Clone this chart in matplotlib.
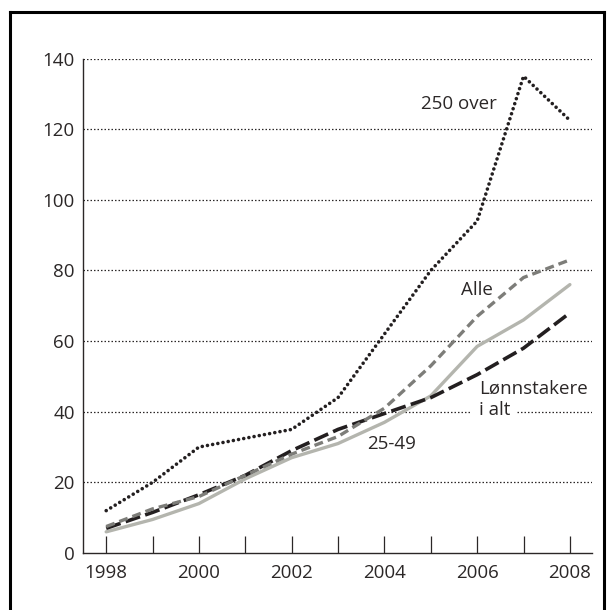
import matplotlib.pyplot as plt
from matplotlib.lines import Line2D

plt.rcParams['font.family'] = ['Open Sans', 'DejaVu Sans']

years = list(range(1998, 2009))
over_250 = [12, 20, 30, 32.5, 35, 44, 62, 80, 94, 135, 122.5]
alle = [7.5, 12.5, 16, 22, 28, 33, 41, 53, 67, 78, 83]
group_25_49 = [6, 9.5, 14, 21, 27, 31, 37, 44.5, 58.5, 66, 76]
lonnstakere = [7, 11.5, 16.5, 22, 29, 35, 39.5, 44, 50.5, 58, 68]

y_ticks = [0, 20, 40, 60, 80, 100, 120, 140]
x_labels = [1998, 2000, 2002, 2004, 2006, 2008]

txt = '#2b2727'
fs = 13.5

fig = plt.figure(figsize=(6.13, 6.10), dpi=100)
ax = fig.add_axes([0.1354, 0.0934, 0.8306, 0.8106])

# outer frame
for xs, ys in [([0.017, 0.017], [0, 0.98]), ([0.017, 0.986], [0.98, 0.98]),
               ([0.986, 0.986], [0, 0.98])]:
    fig.add_artist(Line2D(xs, ys, color='black', lw=2.2, transform=fig.transFigure))

# dotted gridlines
for v in y_ticks[1:]:
    ax.axhline(v, color=txt, lw=0.9, ls=(0, (1.2, 1.6)), zorder=1)

ax.plot(years, group_25_49, color='#b4b5ae', lw=2.4, zorder=3, solid_capstyle='round')
ax.plot(years, lonnstakere, color='#231f20', lw=2.6, ls=(0, (4.2, 1.5)), zorder=4)
ax.plot(years, alle, color='#7d7d79', lw=2.4, ls=(0, (2.7, 1.5)), zorder=4)
ax.plot(years, over_250, color='#231f20', lw=2.6, ls=(0, (0.01, 1.45)),
        dash_capstyle='round', zorder=5)

ax.set_xlim(1997.5, 2008.48)
ax.set_ylim(0, 140)
ax.set_yticks(y_ticks)
ax.set_xticks(years)
ax.set_xticklabels([str(y) if y in x_labels else '' for y in years])
ax.tick_params(axis='x', direction='in', length=12, width=0.9, color=txt,
               labelsize=fs, labelcolor=txt, pad=8)
ax.tick_params(axis='y', length=0, labelsize=fs, labelcolor=txt, pad=6)

for s in ['top', 'right']:
    ax.spines[s].set_visible(False)
for s in ['left', 'bottom']:
    ax.spines[s].set_color(txt)
    ax.spines[s].set_linewidth(1.0)

ax.text(2005.6, 127, '250 over', fontsize=fs, color=txt, ha='center', va='center')
ax.text(2006.0, 74.5, 'Alle', fontsize=fs, color=txt, ha='center', va='center')
ax.text(2004.16, 31, '25-49', fontsize=fs, color=txt, ha='center', va='center')
ax.text(2006.04, 46.5, 'Lønnstakere', fontsize=fs, color=txt, ha='left', va='center')
ax.text(2006.04, 40.5, 'i alt', fontsize=fs, color=txt, ha='left', va='center', zorder=6,
        bbox=dict(facecolor='white', edgecolor='none', pad=5))

fig.savefig('out.png', dpi=100)
